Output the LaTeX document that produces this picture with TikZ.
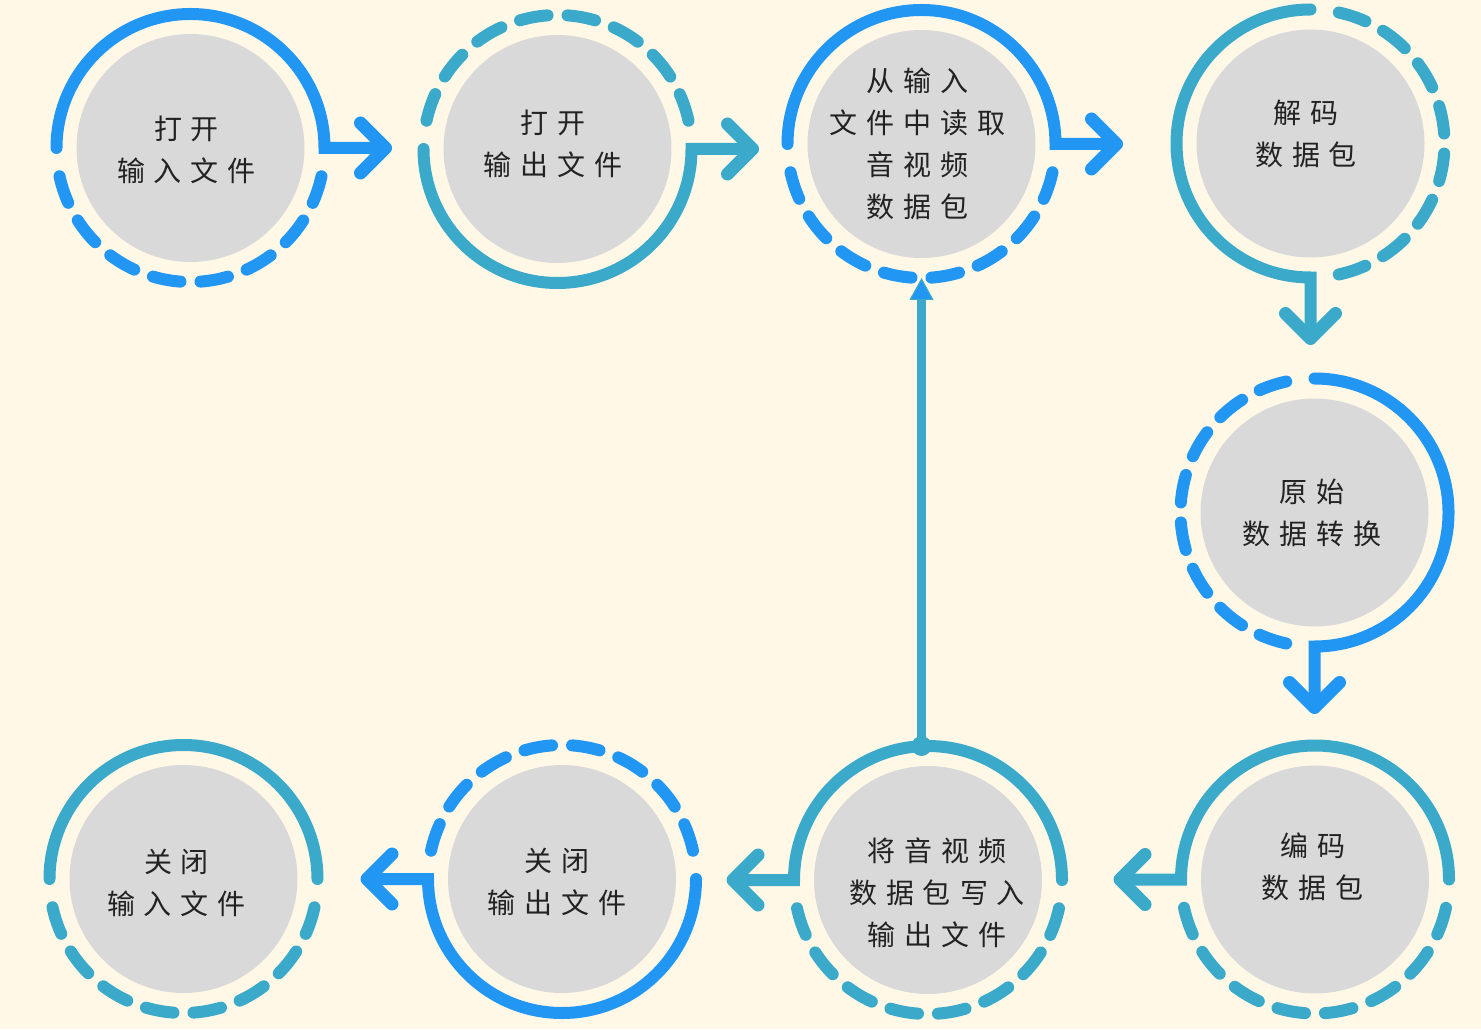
\documentclass[tikz,border=0pt]{standalone}
\usepackage{fontspec}
\newfontfamily\cjk{Noto Sans CJK SC}
\usetikzlibrary{calc,arrows.meta}
\definecolor{bgcol}{HTML}{FFF8E7}
\definecolor{cblue}{HTML}{2196F3}
\definecolor{cteal}{HTML}{3BA9C9}
\definecolor{diskgray}{HTML}{D9D9D9}
\definecolor{txtcol}{HTML}{222222}
\newcommand{\sq}{\hspace{4.5pt}}
\newcommand{\rgR}{134}
\newcommand{\rgD}{11.97}
\newcommand{\rgG}{8.55}
\newcommand{\rgE}{12.18}
\newcommand{\dashring}[3]{%
  \foreach \rgk in {0,...,7}{%
    \pgfmathsetmacro{\rga}{#2+\rgE+\rgk*(\rgD+\rgG)}%
    \draw[ringline,#3] ($(#1.center)+(\rga:\rgR)$) arc[start angle=\rga, delta angle=\rgD, radius=\rgR];
  }}
\tikzset{
  disk/.style={circle, fill=diskgray, minimum size=114pt, inner sep=0pt},
  lbl/.style={text=txtcol, align=center, inner sep=0pt, font=\cjk\fontsize{14pt}{21pt}\selectfont},
  ringline/.style={line width=6pt, line cap=round},
  solidring/.style={line width=6pt, line cap=round, line join=miter},
  chev/.style={line width=6.5pt, line cap=round, line join=round},
  vconn/.style={line width=4.5pt, cteal, -{Triangle[length=11pt,width=12pt,fill=cblue,line width=0.6pt]}},
}
\begin{document}
\begin{tikzpicture}[x=0.5pt,y=0.5pt]
\useasboundingbox (0,0) rectangle (1481,1029);
\fill[bgcol] (0,0) rectangle (1481,1029);

% disks
\node[disk] (n1) at (190.5,881) {};
\node[disk] (n2) at (557.5,880) {};
\node[disk] (n3) at (921.5,885) {};
\node[disk] (n4) at (1310.5,885.5) {};
\node[disk] (n5) at (1314.5,516.5) {};
\node[disk] (n6) at (1315,149.5) {};
\node[disk] (n7) at (928,149) {};
\node[disk] (n8) at (562,150) {};
\node[disk] (n9) at (183.5,150) {};

% arrow tips
\coordinate (a1) at ($(n1.center)+(195,0)$);
\coordinate (a2) at ($(n2.center)+(195,0)$);
\coordinate (a3) at ($(n3.center)+(195,0)$);
\coordinate (a4) at ($(n4.center)+(0,-195)$);
\coordinate (a5) at ($(n5.center)+(0,-195)$);
\coordinate (a6) at ($(n6.center)+(-195,0)$);
\coordinate (a7) at ($(n7.center)+(-195,0)$);
\coordinate (a8) at ($(n8.center)+(-195,0)$);

% circle 1 (blue): solid top, arrow right
\draw[solidring,cblue] ($(n1.center)+(180:\rgR)$) arc[start angle=180, delta angle=-180, radius=\rgR] -- (a1);
\draw[chev,cblue] ($(a1)+(-25,25)$) -- (a1) -- ($(a1)+(-25,-25)$);
\dashring{n1}{180}{cblue}

% circle 2 (teal): solid bottom, arrow right
\draw[solidring,cteal] ($(n2.center)+(180:\rgR)$) arc[start angle=180, delta angle=180, radius=\rgR] -- (a2);
\draw[chev,cteal] ($(a2)+(-25,25)$) -- (a2) -- ($(a2)+(-25,-25)$);
\dashring{n2}{0}{cteal}

% circle 3 (blue): solid top, arrow right
\draw[solidring,cblue] ($(n3.center)+(180:\rgR)$) arc[start angle=180, delta angle=-180, radius=\rgR] -- (a3);
\draw[chev,cblue] ($(a3)+(-25,25)$) -- (a3) -- ($(a3)+(-25,-25)$);
\dashring{n3}{180}{cblue}

% circle 4 (teal): solid left, arrow down
\draw[solidring,cteal] ($(n4.center)+(90:\rgR)$) arc[start angle=90, delta angle=180, radius=\rgR] -- (a4);
\draw[chev,cteal] ($(a4)+(-25,25)$) -- (a4) -- ($(a4)+(25,25)$);
\dashring{n4}{-90}{cteal}

% circle 5 (blue): solid right, arrow down
\draw[solidring,cblue] ($(n5.center)+(90:\rgR)$) arc[start angle=90, delta angle=-180, radius=\rgR] -- (a5);
\draw[chev,cblue] ($(a5)+(-25,25)$) -- (a5) -- ($(a5)+(25,25)$);
\dashring{n5}{90}{cblue}

% circle 6 (teal): solid top, arrow left
\draw[solidring,cteal] ($(n6.center)+(0:\rgR)$) arc[start angle=0, delta angle=180, radius=\rgR] -- (a6);
\draw[chev,cteal] ($(a6)+(25,25)$) -- (a6) -- ($(a6)+(25,-25)$);
\dashring{n6}{180}{cteal}

% circle 7 (teal): solid top, arrow left
\draw[solidring,cteal] ($(n7.center)+(0:\rgR)$) arc[start angle=0, delta angle=180, radius=\rgR] -- (a7);
\draw[chev,cteal] ($(a7)+(25,25)$) -- (a7) -- ($(a7)+(25,-25)$);
\dashring{n7}{180}{cteal}

% circle 8 (blue): solid bottom, arrow left
\draw[solidring,cblue] ($(n8.center)+(0:\rgR)$) arc[start angle=0, delta angle=-180, radius=\rgR] -- (a8);
\draw[chev,cblue] ($(a8)+(25,25)$) -- (a8) -- ($(a8)+(25,-25)$);
\dashring{n8}{0}{cblue}

% circle 9 (teal): solid top, no arrow
\draw[solidring,cteal] ($(n9.center)+(0:\rgR)$) arc[start angle=0, delta angle=180, radius=\rgR];
\dashring{n9}{180}{cteal}

% vertical connector from circle 7 to circle 3
\coordinate (c7top) at ($(n7.center)+(0,134)$);
\coordinate (c3bot) at ($(n3.center)+(0,-134)$);
\coordinate (v7) at (c3bot |- c7top);
\draw[vconn] (v7) -- (c3bot);
\fill[cteal] (v7) circle[radius=10];

% texts
\node[lbl] (t1) at ($(n1.center)+(-4,-2)$) {打\sq 开\\输\sq 入\sq 文\sq 件};
\node[lbl] (t2) at ($(n2.center)+(-4.5,5.5)$) {打\sq 开\\输\sq 出\sq 文\sq 件};
\node[lbl] (t3) at ($(n3.center)+(-4,0)$) {从\sq 输\sq 入\\文\sq 件\sq 中\sq 读\sq 取\\音\sq 视\sq 频\\数\sq 据\sq 包};
\node[lbl] (t4) at ($(n4.center)+(-4.5,10)$) {解\sq 码\\数\sq 据\sq 包};
\node[lbl] (t5) at ($(n5.center)+(-2.5,0)$) {原\sq 始\\数\sq 据\sq 转\sq 换};
\node[lbl] (t6) at ($(n6.center)+(-2.5,13)$) {编\sq 码\\数\sq 据\sq 包};
\node[lbl] (t7) at ($(n7.center)+(9,-12.5)$) {将\sq 音\sq 视\sq 频\\数\sq 据\sq 包\sq 写\sq 入\\输\sq 出\sq 文\sq 件};
\node[lbl] (t8) at ($(n8.center)+(-5,-3)$) {关\sq 闭\\输\sq 出\sq 文\sq 件};
\node[lbl] (t9) at ($(n9.center)+(-7,-4)$) {关\sq 闭\\输\sq 入\sq 文\sq 件};
\end{tikzpicture}
\end{document}
